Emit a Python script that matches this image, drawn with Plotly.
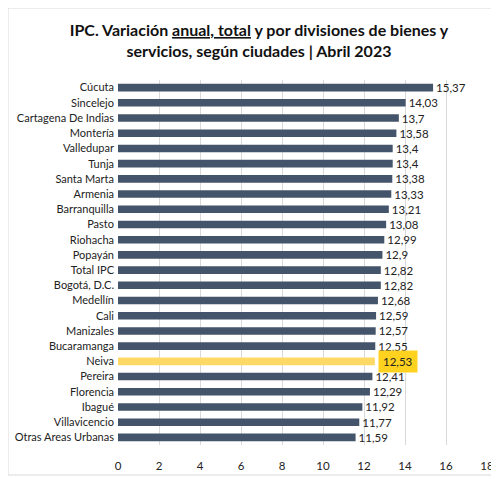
import plotly.graph_objects as go

cities = ["Cúcuta", "Sincelejo", "Cartagena De Indias", "Montería", "Valledupar", "Tunja",
          "Santa Marta", "Armenia", "Barranquilla", "Pasto", "Riohacha", "Popayán", "Total IPC",
          "Bogotá, D.C.", "Medellín", "Cali", "Manizales", "Bucaramanga", "Neiva", "Pereira",
          "Florencia", "Ibagué", "Villavicencio", "Otras Areas Urbanas"]
values = [15.37, 14.03, 13.7, 13.58, 13.4, 13.4, 13.38, 13.33, 13.21, 13.08, 12.99, 12.9, 12.82,
          12.82, 12.68, 12.59, 12.57, 12.55, 12.53, 12.41, 12.29, 11.92, 11.77, 11.59]
highlight = "Neiva"
x_ticks = [0, 2, 4, 6, 8, 10, 12, 14, 16, 18]

FONT = "Lato, sans-serif"
BAR = "#44546A"
HL = "#FFD966"

def fmt(v):
    return str(v).replace(".", ",")

colors = [HL if c == highlight else BAR for c in cities]
texts = ["" if c == highlight else fmt(v) for c, v in zip(cities, values)]

fig = go.Figure(go.Bar(
    x=values, y=cities, orientation="h",
    marker=dict(color=colors, line=dict(width=0)),
    text=texts, textposition="outside", cliponaxis=False, constraintext="none",
    textfont=dict(family=FONT, size=11.5, color="#222222"),
    width=0.5,
))

hv = values[cities.index(highlight)]
fig.add_annotation(x=hv, y=highlight, xref="x", yref="y", text=fmt(hv),
                   showarrow=False, xanchor="left", xshift=3, bgcolor="#FFD21F",
                   borderpad=4, font=dict(family=FONT, size=11.5, color="#222222"))

# page body has an 8px margin, so offsets are shifted accordingly
W, H = 491, 471
L, T = 110, 72
PW, PH = 369, 365
fig.update_layout(
    width=W, height=H,
    margin=dict(l=L, r=W - L - PW, t=T, b=H - T - PH, autoexpand=False),
    paper_bgcolor="white", plot_bgcolor="white",
    showlegend=False,
    title=dict(
        text="<b>IPC. Variación <u>anual, total</u> y por divisiones de bienes y<br>servicios, según ciudades | Abril 2023</b>",
        x=(259 - 8) / W, xanchor="center", xref="container",
        y=1 - 28 / H, yanchor="middle", yref="container",
        font=dict(family=FONT, size=16, color="#111111"),
    ),
    xaxis=dict(range=[0, 18], tickvals=x_ticks, showgrid=True, gridcolor="#D9D9D9",
               zeroline=False, showline=False, ticks="", automargin=False,
               ticklabelstandoff=12,
               tickfont=dict(family=FONT, size=11.5, color="#222222")),
    yaxis=dict(categoryorder="array", categoryarray=cities[::-1], showgrid=False,
               ticks="", ticklabelstandoff=3, automargin=False,
               tickfont=dict(family=FONT, size=11, color="#222222")),
    shapes=[dict(type="rect", xref="paper", yref="paper",
                 x0=-L / PW, x1=(489 - L) / PW,
                 y0=-(467 - T - PH) / PH, y1=1 + T / PH,
                 line=dict(color="#D9D9D9", width=1), fillcolor="rgba(0,0,0,0)", layer="below")],
)

fig.write_html("out.html")
